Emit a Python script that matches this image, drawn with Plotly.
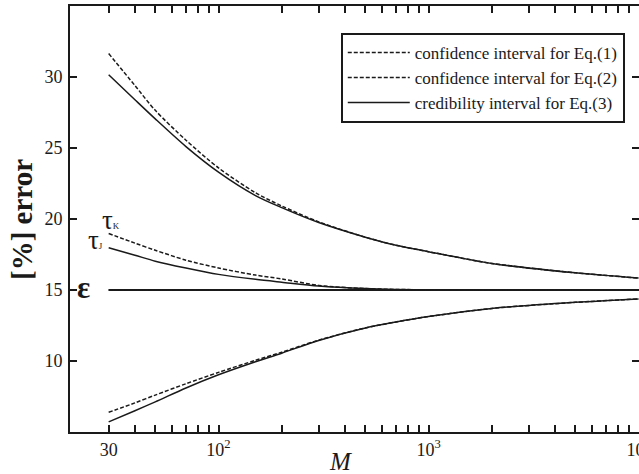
import plotly.graph_objects as go

# ---- data ----
M = [30, 40, 50, 70, 100, 150, 200, 300, 500, 700, 1000, 2000, 5000, 10000]

eq1_upper = [31.65, 29.4, 27.65, 25.55, 23.6, 21.85, 20.92, 19.8, 18.72, 18.15, 17.7, 16.87, 16.21, 15.84]
eq1_lower = [6.39, 7.05, 7.6, 8.4, 9.2, 10.05, 10.62, 11.47, 12.33, 12.75, 13.13, 13.7, 14.13, 14.37]
eq2_tauK = [18.98, 18.3, 17.8, 17.1, 16.55, 16.05, 15.78, 15.32, 15.1, 15.04, 15.01, 15.0, 15.0, 15.0]
eq3_upper = [30.16, 28.4, 27.05, 25.1, 23.3, 21.65, 20.8, 19.75, 18.72, 18.15, 17.7, 16.87, 16.21, 15.84]
eq3_lower = [5.71, 6.5, 7.12, 8.1, 9.03, 9.95, 10.55, 11.45, 12.33, 12.75, 13.13, 13.7, 14.13, 14.37]
eq3_tauJ = [17.97, 17.45, 17.03, 16.55, 16.1, 15.75, 15.55, 15.28, 15.1, 15.04, 15.01, 15.0, 15.0, 15.0]
epsilon = [15.0] * len(M)

x_tickvals = [30, 100, 1000, 10000]
x_ticktext = ["30", "10<sup>2</sup>", "10<sup>3</sup>", "10<sup>4</sup>"]
x_minor = [40, 50, 60, 70, 80, 90, 200, 300, 400, 500, 600, 700, 800, 900,
           2000, 3000, 4000, 5000, 6000, 7000, 8000, 9000]
y_tickvals = [10, 15, 20, 25, 30]

legend_names = ["confidence interval for Eq.(1)",
                "confidence interval for Eq.(2)",
                "credibility interval for Eq.(3)"]

INK = "#1a1a1a"
DASH = "4px,2px"
FONT = "Liberation Serif"

fig = go.Figure()


def add(y, dash, name=None, show=False, group=None, width=1.5):
    fig.add_trace(go.Scatter(
        x=M, y=y, mode="lines",
        line=dict(color=INK, width=width, dash=dash, shape="spline", smoothing=0.8),
        name=name, showlegend=show, legendgroup=group, hoverinfo="skip"))


# Eq.(1) confidence interval (dashed)
add(eq1_upper, DASH, legend_names[0], True, "g1")
add(eq1_lower, DASH, None, False, "g1")
# Eq.(2) (dashed) tau_K
add(eq2_tauK, DASH, legend_names[1], True, "g2")
# Eq.(3) credibility (solid)
add(eq3_upper, "solid", legend_names[2], True, "g3")
add(eq3_lower, "solid", None, False, "g3")
add(eq3_tauJ, "solid", None, False, "g3")
# epsilon line
add(epsilon, "solid", None, False, "g3", width=2.2)
add(epsilon, DASH, None, False, "g1", width=2.2)

# dummy trace for the right-side tick axis
fig.add_trace(go.Scatter(x=[], y=[], yaxis="y2", showlegend=False, hoverinfo="skip"))

fig.update_layout(
    width=639, height=474,
    margin=dict(l=70, r=0, t=6, b=42, autoexpand=False),
    paper_bgcolor="white", plot_bgcolor="white",
    font=dict(family=FONT, size=18, color=INK),
    xaxis=dict(
        type="log", range=[1.293, 4.002], automargin=False,
        tickvals=x_tickvals, ticktext=x_ticktext,
        ticks="inside", ticklen=7, tickwidth=2, tickcolor=INK,
        showline=True, linewidth=2, linecolor=INK, mirror="allticks",
        showgrid=False, zeroline=False, ticklabeloverflow="allow",
        minor=dict(tickvals=x_minor, ticks="inside", ticklen=4, tickwidth=1.5,
                   tickcolor=INK, showgrid=False),
        tickfont=dict(size=18, family=FONT),
    ),
    yaxis=dict(
        range=[5, 35], tickvals=y_tickvals, automargin=False,
        ticks="inside", ticklen=7, tickwidth=2, tickcolor=INK,
        showline=True, linewidth=2, linecolor=INK, mirror=False,
        showgrid=False, zeroline=False,
        ticklabelstandoff=2,
        tickfont=dict(size=18, family=FONT),
    ),
    yaxis2=dict(
        overlaying="y", side="right", anchor="x", range=[5, 35], tickvals=y_tickvals,
        automargin=False,
        ticks="inside", ticklen=7, tickwidth=2, tickcolor=INK,
        showticklabels=False, showline=False, showgrid=False, zeroline=False,
    ),
    legend=dict(
        x=0.975, xanchor="right", y=0.937, yanchor="top",
        bgcolor="white", bordercolor=INK, borderwidth=2,
        font=dict(size=17, family=FONT, color=INK),
        itemwidth=62, tracegroupgap=0,
        entrywidth=286, entrywidthmode="pixels",
    ),
    annotations=[
        dict(text="<b>[%] error</b>", xref="paper", yref="paper",
             x=-0.0844, y=0.5, xanchor="center", yanchor="middle",
             textangle=-90, showarrow=False,
             font=dict(size=29, family=FONT, color=INK)),
        dict(text="<i>M</i>", xref="paper", yref="paper",
             x=(340 - 70) / 569, y=-0.0704, xanchor="center", yanchor="middle",
             showarrow=False, font=dict(size=25, family=FONT, color=INK)),
        dict(text="τ<span style='font-size:9px'>K</span>", xref="x", yref="y",
             x=1.435, y=19.95, xanchor="left", yanchor="middle",
             showarrow=False, font=dict(size=27, family=FONT, color=INK)),
        dict(text="τ<span style='font-size:9px'>J</span>", xref="x", yref="y",
             x=1.37, y=18.55, xanchor="left", yanchor="middle",
             showarrow=False, font=dict(size=27, family=FONT, color=INK)),
        dict(text="<b>ε</b>", xref="x", yref="y",
             x=1.318, y=15.15, xanchor="left", yanchor="middle",
             showarrow=False, font=dict(size=31, family=FONT, color=INK)),
    ],
)

fig.write_html("out.html", config={"displayModeBar": False},
               post_script="document.body.style.margin='0';")
